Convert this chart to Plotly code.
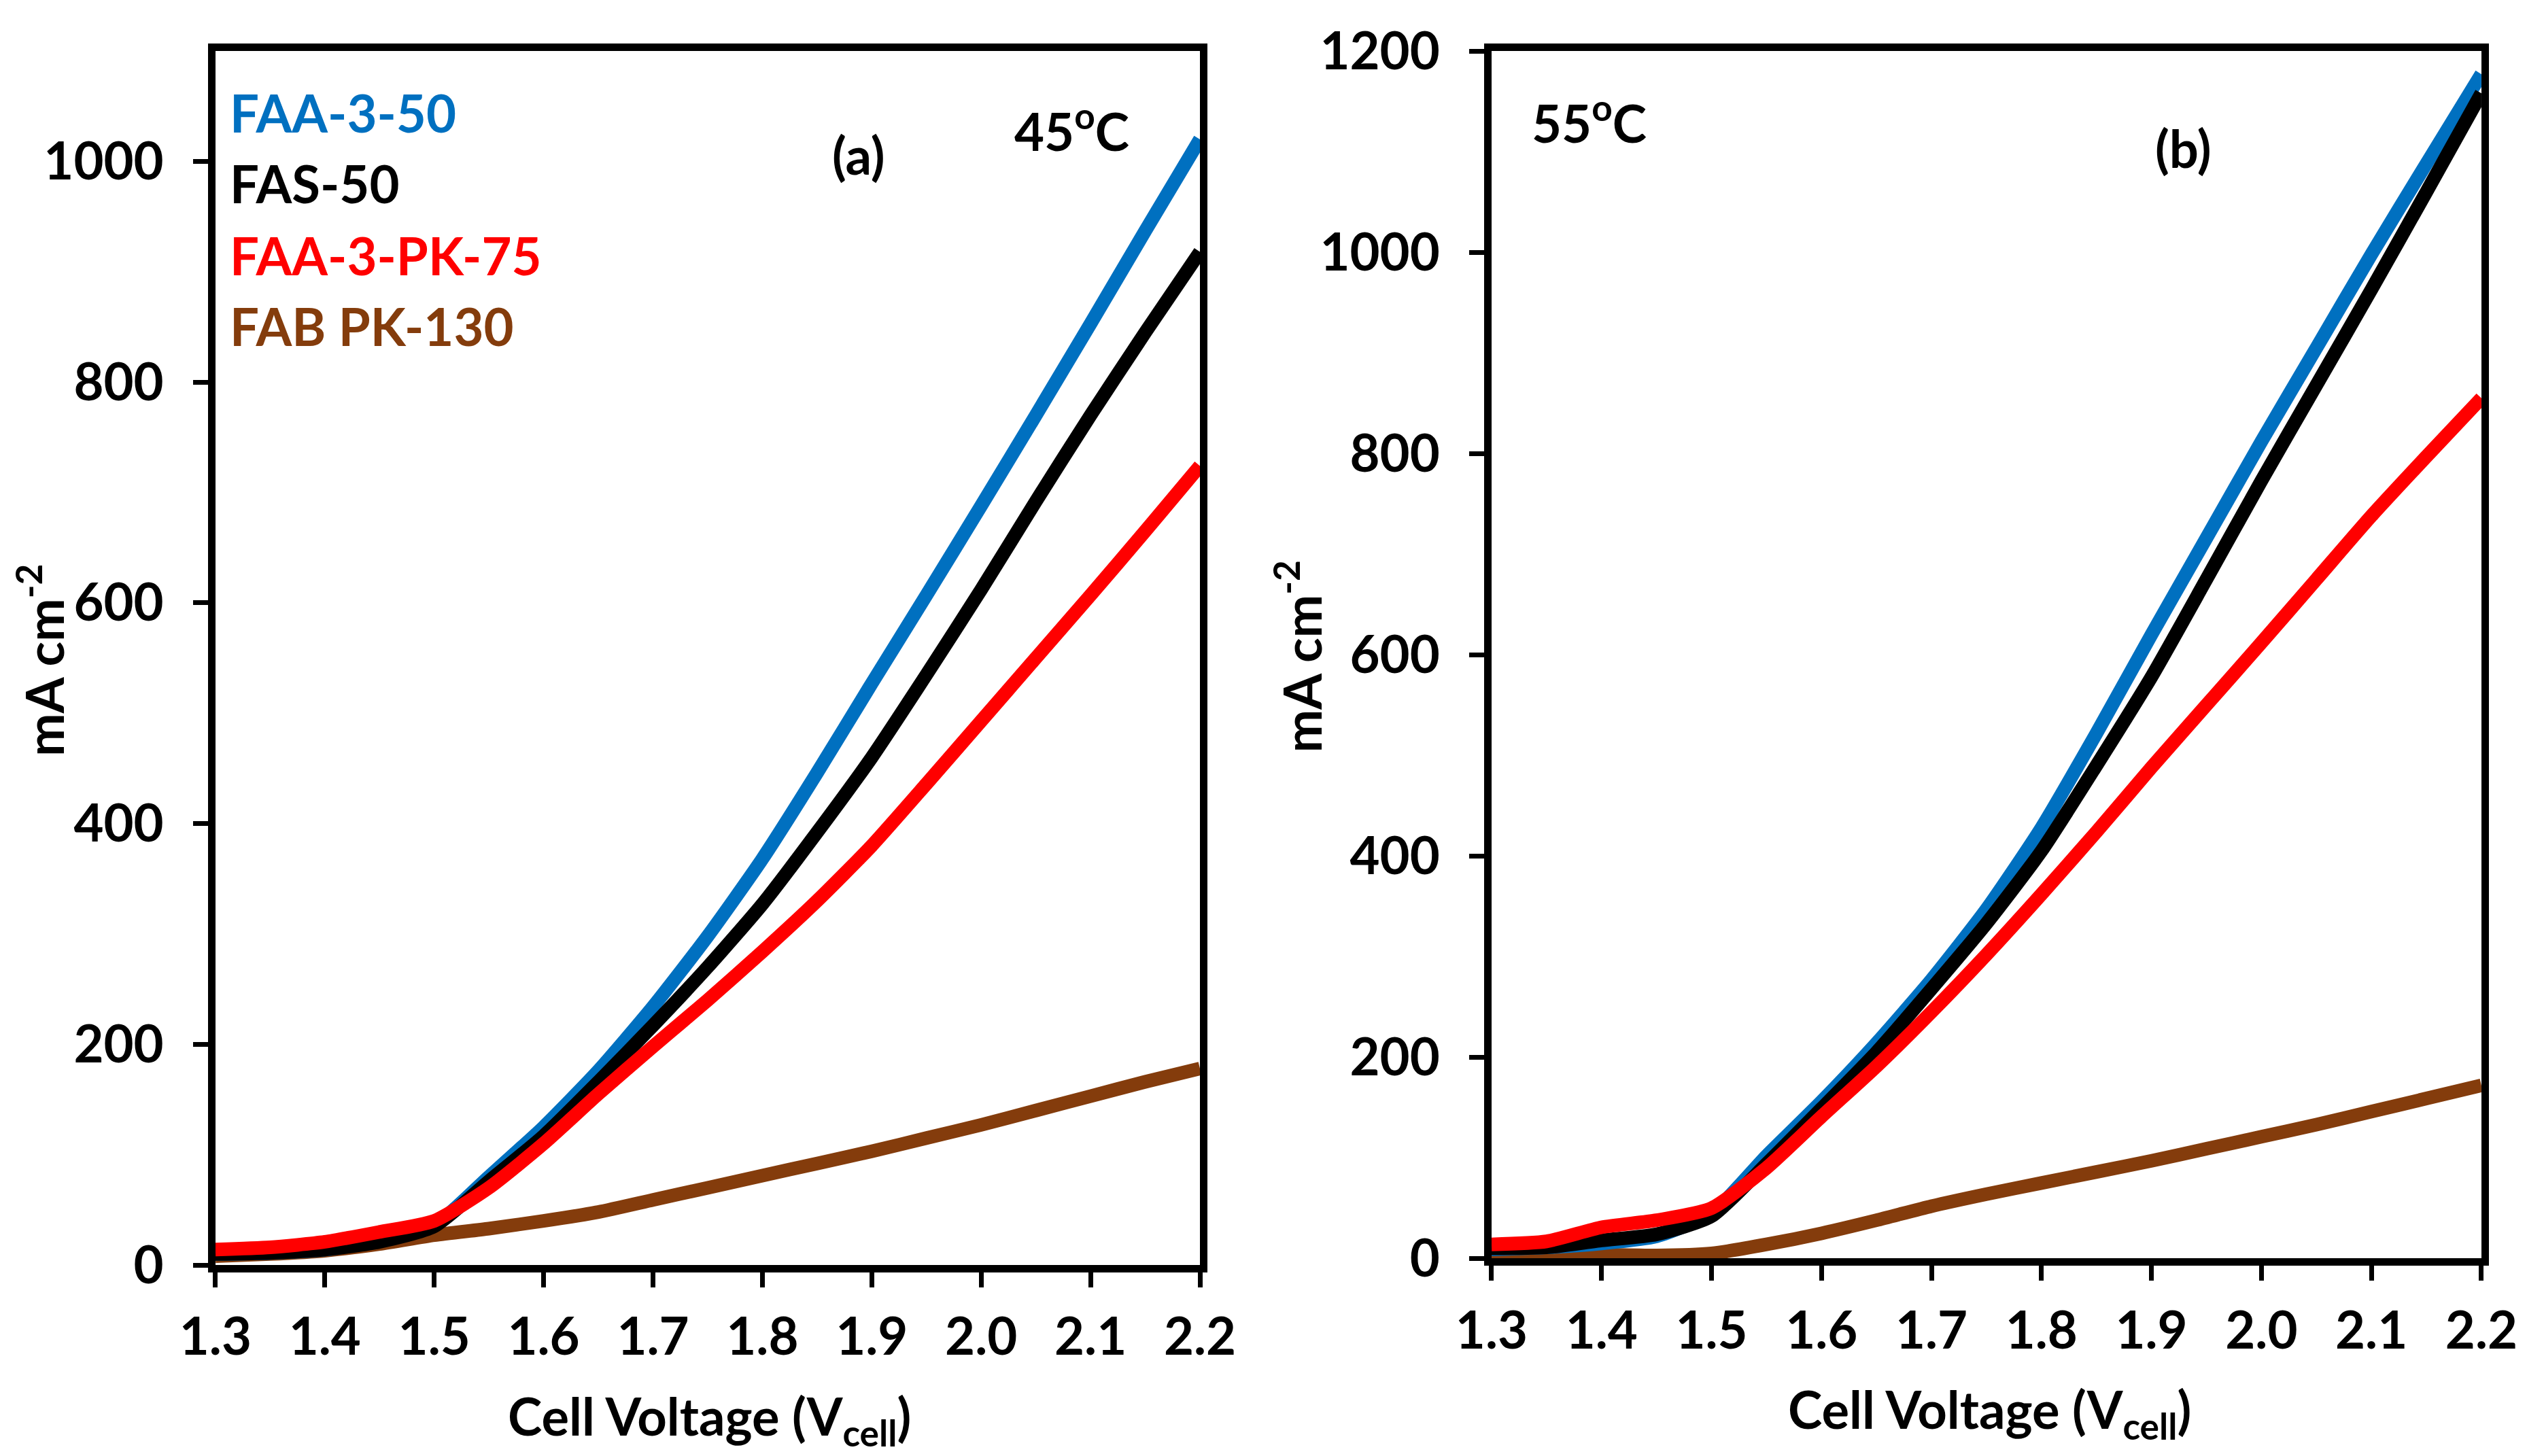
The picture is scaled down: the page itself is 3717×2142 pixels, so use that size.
import plotly.graph_objects as go

# cell voltage (V)
voltage = [1.30, 1.35, 1.40, 1.45, 1.50, 1.55, 1.60, 1.65, 1.70, 1.75,
           1.80, 1.85, 1.90, 1.95, 2.00, 2.05, 2.10, 2.15, 2.20]

# (a) 45 C, current density mA cm-2
faa3_50_45 = [10, 11, 14, 22, 36, 80, 125, 176, 234, 298, 368, 446, 527, 607, 688, 770, 853, 937, 1020]
fas50_45 = [10, 11, 14, 21, 35, 76, 117, 166, 217, 270, 327, 392, 460, 535, 612, 692, 770, 845, 918]
faa3pk75_45 = [14, 16, 21, 30, 40, 70, 110, 155, 198, 240, 284, 330, 380, 436, 493, 550, 607, 665, 724]
fabpk130_45 = [8, 10, 13, 19, 27, 33, 40, 48, 59, 70, 81, 92, 103, 115, 127, 140, 153, 166, 178]

# (b) 55 C
faa3_50_55 = [9, 11, 15, 22, 45, 102, 156, 214, 277, 347, 428, 522, 620, 716, 812, 905, 998, 1088, 1177]
fas50_55 = [10, 11, 18, 24, 42, 94, 149, 205, 268, 333, 405, 490, 578, 675, 773, 868, 963, 1060, 1158]
faa3pk75_55 = [14, 17, 31, 38, 50, 90, 141, 191, 245, 302, 362, 424, 488, 550, 612, 675, 738, 797, 855]
fabpk130_55 = [6, 6, 4, 3, 5, 14, 25, 38, 52, 64, 75, 86, 97, 109, 121, 133, 146, 159, 172]

names = ["FAA-3-50", "FAS-50", "FAA-3-PK-75", "FAB PK-130"]
colors = ["#0070C0", "#000000", "#FF0000", "#843C0C"]

x_ticks = [1.3, 1.4, 1.5, 1.6, 1.7, 1.8, 1.9, 2.0, 2.1, 2.2]
x_ticktext = ["1.3", "1.4", "1.5", "1.6", "1.7", "1.8", "1.9", "2.0", "2.1", "2.2"]
y_ticks_a = [0, 200, 400, 600, 800, 1000]
y_ticks_b = [0, 200, 400, 600, 800, 1000, 1200]

FONT = "Lato"
FS = 76

series_a = [faa3_50_45, fas50_45, faa3pk75_45, fabpk130_45]
series_b = [faa3_50_55, fas50_55, faa3pk75_55, fabpk130_55]

fig = go.Figure()

# draw order: brown first, then blue, black, red on top
for i in [3, 0, 1, 2]:
    fig.add_trace(go.Scatter(x=voltage, y=series_a[i], mode="lines", name=names[i],
                             line=dict(color=colors[i], width=20, shape="spline", smoothing=0.6),
                             showlegend=False, xaxis="x", yaxis="y"))
for i in [3, 0, 1, 2]:
    fig.add_trace(go.Scatter(x=voltage, y=series_b[i], mode="lines", name=names[i],
                             line=dict(color=colors[i], width=20, shape="spline", smoothing=0.6),
                             showlegend=False, xaxis="x2", yaxis="y2"))

tickfont = dict(family=FONT, size=FS, color="black", weight="bold")
xcommon = dict(tickvals=x_ticks, ticktext=x_ticktext, range=[1.3, 2.2],
               showline=True, mirror=True, linecolor="black", linewidth=11,
               ticks="outside", ticklen=22, tickwidth=7, tickcolor="black",
               showgrid=False, zeroline=False, tickfont=tickfont, ticklabelstandoff=8,
               automargin=False)
ycommon = dict(showline=True, mirror=True, linecolor="black", linewidth=11,
               ticks="outside", ticklen=22, tickwidth=7, tickcolor="black",
               showgrid=False, zeroline=False, tickfont=tickfont, ticklabelstandoff=28,
               automargin=False)

fig.update_layout(
    template="none",
    width=3717, height=2142,
    paper_bgcolor="white", plot_bgcolor="white",
    margin=dict(l=0, r=0, t=0, b=0, pad=0, autoexpand=False),
    xaxis=dict(domain=[0.0831, 0.4727], anchor="y", **xcommon),
    yaxis=dict(domain=[0.1349, 0.9687], anchor="x", range=[0, 1100], tickvals=y_ticks_a, **ycommon),
    xaxis2=dict(domain=[0.5881, 0.9798], anchor="y2", **xcommon),
    yaxis2=dict(domain=[0.1394, 0.9687], anchor="x2", range=[0, 1200], tickvals=y_ticks_b, **ycommon),
)

afont = dict(family=FONT, size=FS, color="black", weight="bold")
ann = []
# legend as coloured text
for name, col, yv in zip(names, colors, [1044, 980, 915, 851]):
    ann.append(dict(x=1.312, y=yv, xref="x", yref="y", text=name, showarrow=False,
                    xanchor="left", yanchor="middle", font=dict(afont, color=col)))
ann.append(dict(x=1.888, y=1006, xref="x", yref="y", text="(a)", showarrow=False,
                xanchor="center", yanchor="middle", font=afont))
ann.append(dict(x=2.083, y=1031, xref="x", yref="y", text="45<sup>o</sup>C", showarrow=False,
                xanchor="center", yanchor="middle", font=afont))
ann.append(dict(x=1.389, y=1132, xref="x2", yref="y2", text="55<sup>o</sup>C", showarrow=False,
                xanchor="center", yanchor="middle", font=afont))
ann.append(dict(x=1.929, y=1104, xref="x2", yref="y2", text="(b)", showarrow=False,
                xanchor="center", yanchor="middle", font=afont))
# axis titles
ann.append(dict(x=0.0140, y=0.550, xref="paper", yref="paper", text="mA cm<sup>-2</sup>",
                textangle=-90, showarrow=False, xanchor="center", yanchor="middle", font=afont))
ann.append(dict(x=0.5117, y=0.553, xref="paper", yref="paper", text="mA cm<sup>-2</sup>",
                textangle=-90, showarrow=False, xanchor="center", yanchor="middle", font=afont))
ann.append(dict(x=0.2787, y=0.0290, xref="paper", yref="paper", text="Cell Voltage (V<sub>cell</sub>)",
                showarrow=False, xanchor="center", yanchor="middle", font=afont))
ann.append(dict(x=0.7853, y=0.0336, xref="paper", yref="paper", text="Cell Voltage (V<sub>cell</sub>)",
                showarrow=False, xanchor="center", yanchor="middle", font=afont))
fig.update_layout(annotations=ann)

fig.write_html("out.html")
